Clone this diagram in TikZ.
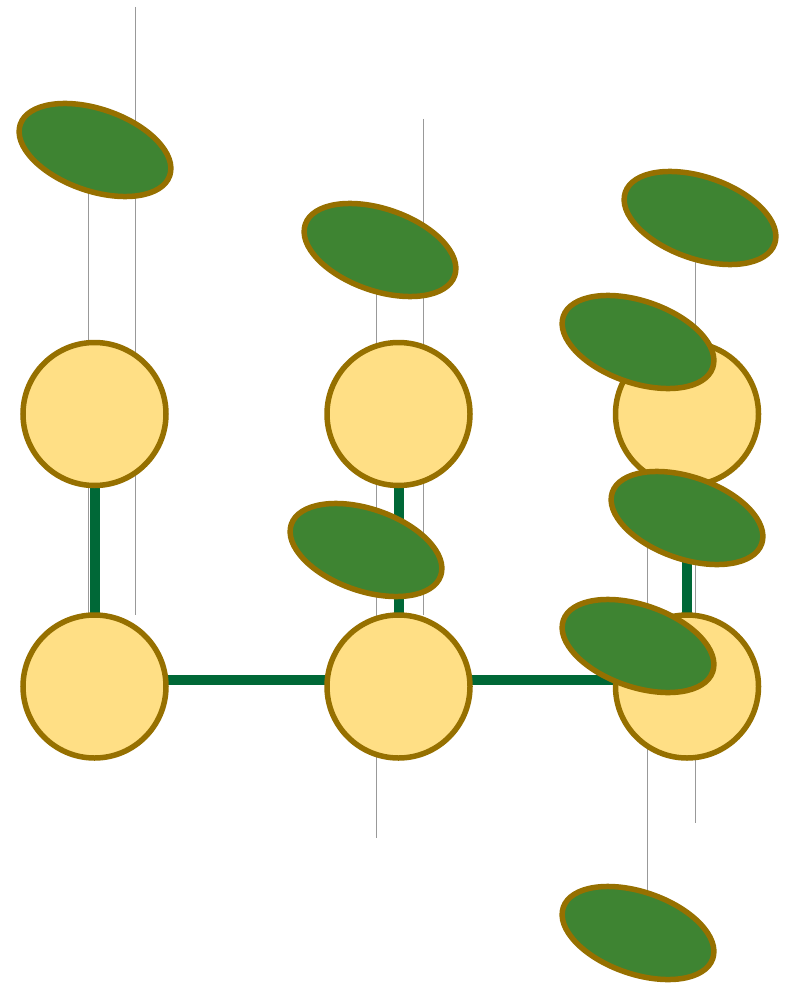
\documentclass[tikz,border=0pt]{standalone}
\usetikzlibrary{shapes.geometric}
\definecolor{nodefill}{HTML}{FFDF85}
\definecolor{rimgold}{HTML}{967000}
\definecolor{leafgreen}{HTML}{3E8432}
\definecolor{edgegreen}{HTML}{006837}
\tikzset{
  hub/.style={circle, draw=rimgold, fill=nodefill, line width=5.5pt, minimum size=143pt, inner sep=0pt, outer sep=0pt},
  leaf/.style={ellipse, draw=rimgold, fill=leafgreen, line width=5.5pt, minimum width=158pt, minimum height=82pt, inner sep=0pt, rotate=-19},
  link/.style={draw=edgegreen, line width=10pt},
  guide/.style={draw=gray!80, line width=0.5pt}
}
\begin{document}
\begin{tikzpicture}[x=1pt, y=-1pt]
\useasboundingbox (0,0) rectangle (789,984);

% thin vertical guide lines (behind everything)
\coordinate (g1a) at (135,7);   \coordinate (g1b) at (135,615);
\coordinate (g2a) at (88,150);  \coordinate (g2b) at (88,615);
\coordinate (g3a) at (423,119); \coordinate (g3b) at (423,615);
\coordinate (g4a) at (376,250); \coordinate (g4b) at (376,838);
\coordinate (g5a) at (695,218); \coordinate (g5b) at (695,823);
\coordinate (g6a) at (647,520); \coordinate (g6b) at (647,933);
\foreach \g in {1,...,6} \draw[guide] (g\g a) -- (g\g b);

% hub positions
\coordinate (p1) at (94.5,414);
\coordinate (p2) at (398.5,414);
\coordinate (p3) at (687,414);
\coordinate (p4) at (94.5,686.5);
\coordinate (p5) at (398.5,686.5);
\coordinate (p6) at (687,686.5);

% links between hubs (drawn first so the hubs sit on top)
\draw[link] (p1) -- (p4);
\draw[link] (p2) -- (p5);
\draw[link] (p3) -- (p6);
\draw[link] ([yshift=7pt]p4) -- ([yshift=7pt]p5);
\draw[link] ([yshift=7pt]p5) -- ([yshift=7pt]p6);

% hubs
\foreach \i in {1,...,6} \node[hub] (c\i) at (p\i) {};

% leaves
\node[leaf] (e1) at (95,150) {};
\node[leaf] (e2) at (380,250) {};
\node[leaf] (e3) at (700,218) {};
\node[leaf] (e4) at (638,342) {};
\node[leaf] (e5) at (366,550) {};
\node[leaf] (e6) at (687,518) {};
\node[leaf] (e7) at (638,646) {};
\node[leaf] (e8) at (638,933) {};
\end{tikzpicture}
\end{document}
